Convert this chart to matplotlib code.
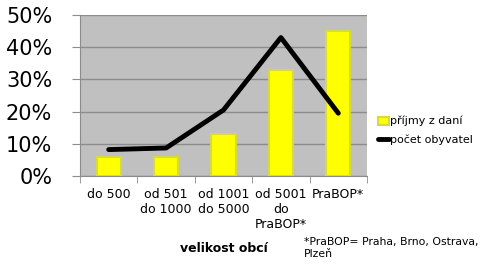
import matplotlib.pyplot as plt
import numpy as np

# hodnoty
kategorie = ["do 500", "od 501\ndo 1000", "od 1001\ndo 5000", "od 5001\ndo\nPraBOP*", "PraBOP*"]
prijmy_z_dani = [6, 6, 13, 33, 45]
pocet_obyvatel = [8.2, 8.7, 20.5, 43, 19.5]
y_ticky = [0, 10, 20, 30, 40, 50]

fig = plt.figure(figsize=(4.91, 2.66), dpi=100)
ax = fig.add_axes([80 / 491, 1 - 176 / 266, 287 / 491, 161 / 266])
ax.set_facecolor("#c0c0c0")

x = np.arange(len(kategorie))
sloupce = ax.bar(x, prijmy_z_dani, width=0.42, color="#ffff00", edgecolor="#d8d840",
                 linewidth=1.5, zorder=3, label="příjmy z daní")
cara, = ax.plot(x, pocet_obyvatel, color="black", linewidth=3.5, zorder=4,
                solid_capstyle="round", label="počet obyvatel")

ax.set_xlim(-0.5, len(kategorie) - 0.5)
ax.set_ylim(0, 50)
ax.set_yticks(y_ticky)
ax.set_yticklabels([f"{v}%" for v in y_ticky], fontsize=15)
ax.yaxis.grid(True, color="#8c8c8c", linewidth=1, zorder=0)
ax.tick_params(axis="y", length=6, color="#8c8c8c", pad=14)

ax.set_xticks(x)
ax.set_xticklabels(kategorie, fontsize=9, va="top", linespacing=1.15)
ax.set_xticks(np.arange(len(kategorie) + 1) - 0.5, minor=True)
ax.tick_params(axis="x", which="major", length=0, pad=9)
ax.tick_params(axis="x", which="minor", length=5, color="#8c8c8c")

for s in ["top", "right"]:
    ax.spines[s].set_visible(False)
ax.spines["left"].set_color("#8c8c8c")
ax.spines["bottom"].set_color("#8c8c8c")

fig.legend([sloupce, cara], ["příjmy z daní", "počet obyvatel"],
           loc="upper left", bbox_to_anchor=(378 / 491, 1 - 116 / 266),
           fontsize=8, frameon=False, handlelength=1.0, handletextpad=0.1,
           labelspacing=0.75, borderaxespad=0, borderpad=0)

fig.text(224 / 491, 1 - 248 / 266, "velikost obcí", fontsize=9,
         fontweight="bold", ha="center", va="center")
fig.text(304 / 491, 1 - 248 / 266, "*PraBOP= Praha, Brno, Ostrava,\nPlzeň",
         fontsize=7.8, ha="left", va="center", linespacing=1.3)

fig.savefig("out.png", dpi=100)
